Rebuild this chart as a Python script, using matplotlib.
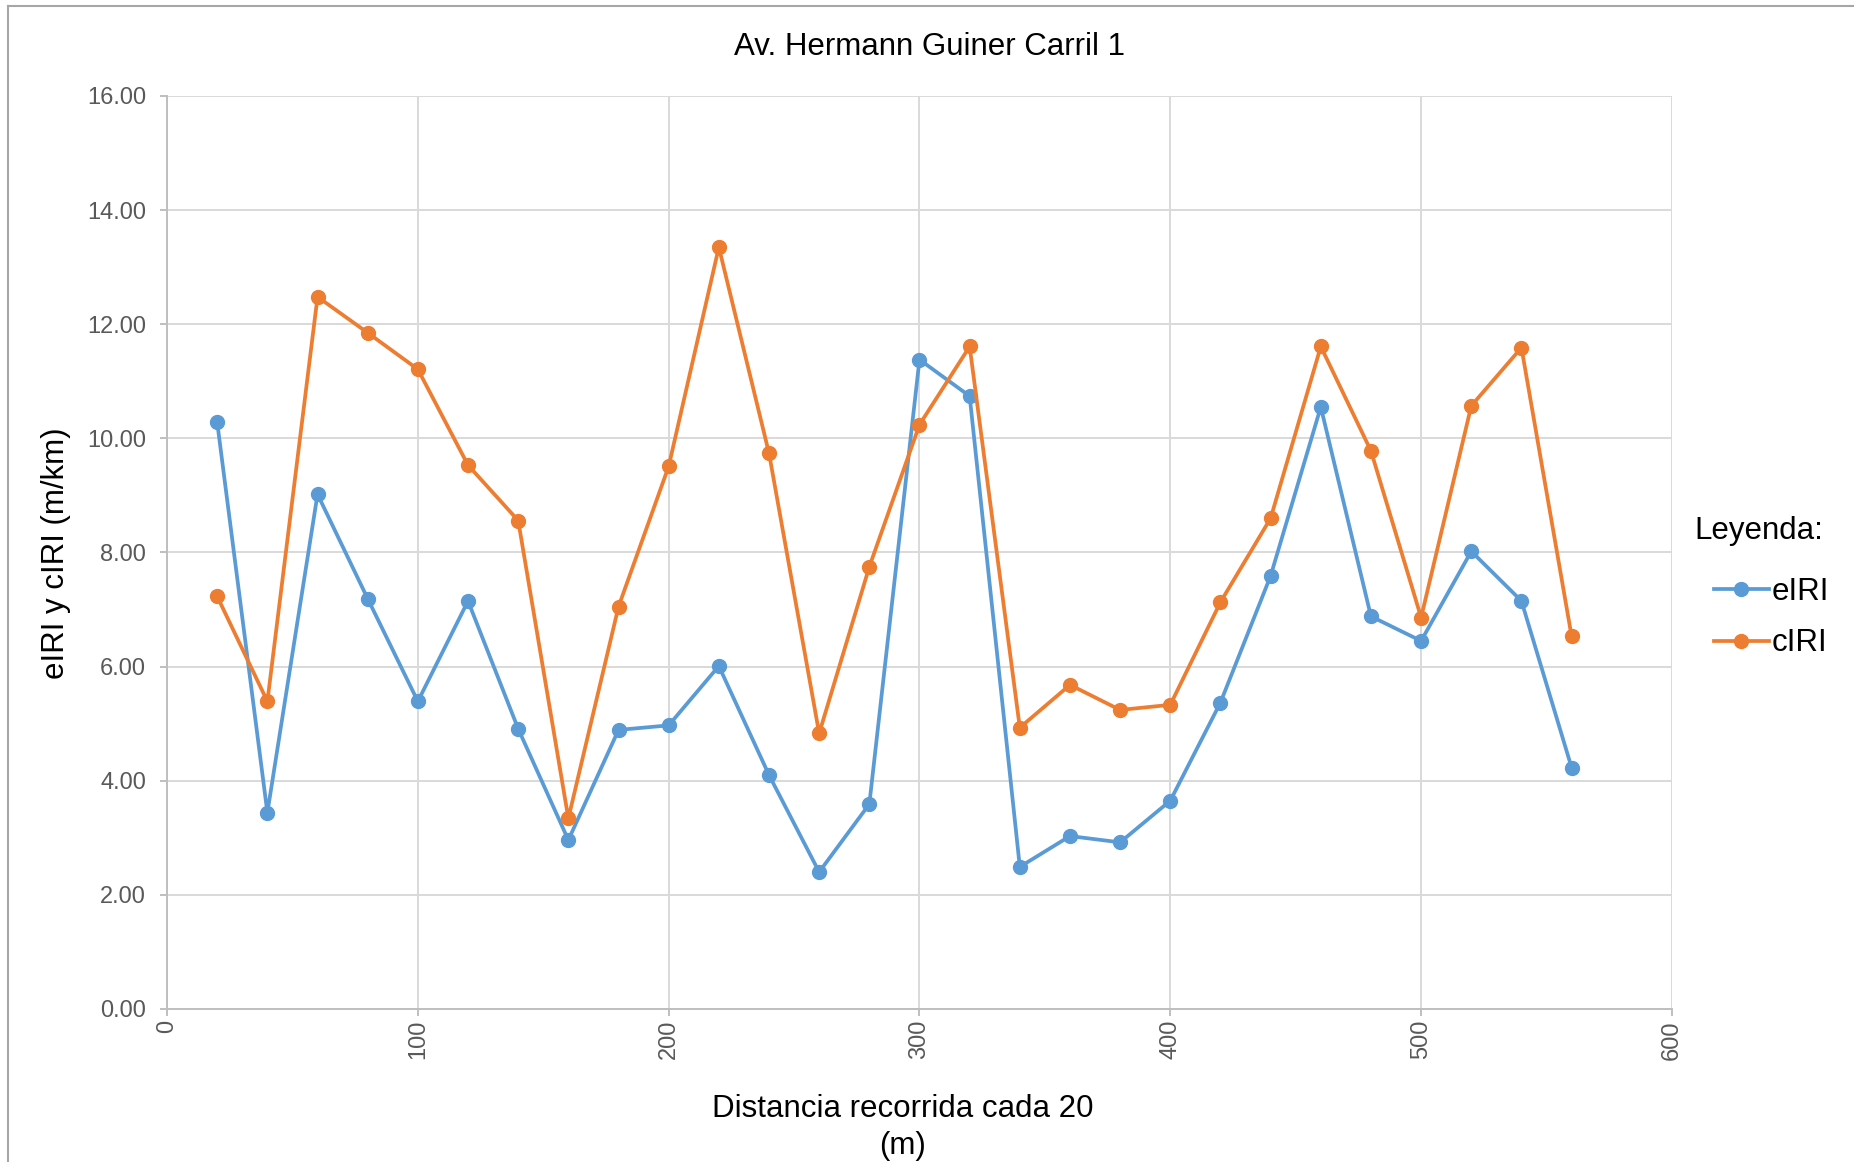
import matplotlib
matplotlib.use('Agg')
import matplotlib.pyplot as plt
from matplotlib.lines import Line2D

plt.rcParams['font.family'] = ['Liberation Sans', 'DejaVu Sans']

# distance every 20 m
distancia = [20, 40, 60, 80, 100, 120, 140, 160, 180, 200, 220, 240, 260, 280,
             300, 320, 340, 360, 380, 400, 420, 440, 460, 480, 500, 520, 540, 560]

eiri = [10.28, 3.44, 9.02, 7.19, 5.39, 7.15, 4.91, 2.96, 4.89, 4.97, 6.01, 4.10, 2.40, 3.59,
        11.38, 10.74, 2.49, 3.03, 2.92, 3.65, 5.37, 7.59, 10.55, 6.88, 6.45, 8.02, 7.15, 4.23]

ciri = [7.23, 5.39, 12.48, 11.85, 11.21, 9.53, 8.56, 3.34, 7.05, 9.51, 13.35, 9.74, 4.83, 7.75,
        10.24, 11.61, 4.93, 5.68, 5.24, 5.33, 7.13, 8.60, 11.61, 9.78, 6.86, 10.57, 11.59, 6.53]

x_ticks = [0, 100, 200, 300, 400, 500, 600]
y_ticks = [0, 2, 4, 6, 8, 10, 12, 14, 16]

fig = plt.figure(figsize=(18.54, 11.62), dpi=100)
ax = fig.add_axes([0.0901, 0.1317, 0.8117, 0.7857])

ax.plot(distancia, eiri, color='#5B9BD5', linewidth=2.7, marker='o', markersize=10, label='eIRI')
ax.plot(distancia, ciri, color='#ED7D31', linewidth=2.7, marker='o', markersize=10, label='cIRI')

ax.set_xlim(0, 600)
ax.set_ylim(0, 16)
ax.set_xticks(x_ticks)
ax.set_yticks(y_ticks)
ax.set_yticklabels([f'{v:.2f}' for v in y_ticks])
ax.set_xticklabels([str(v) for v in x_ticks], rotation=90)

ax.grid(True, color='#D9D9D9', linewidth=1.4)
ax.set_axisbelow(True)
for side in ['top', 'right']:
    ax.spines[side].set_visible(False)
for side in ['left', 'bottom']:
    ax.spines[side].set_color('#BFBFBF')
    ax.spines[side].set_linewidth(1.4)

ax.tick_params(axis='y', length=5, width=1.4, color='#BFBFBF', pad=10, labelsize=17, labelcolor='#595959')
ax.tick_params(axis='x', length=5, width=1.4, color='#BFBFBF', pad=3, labelsize=17, labelcolor='#595959')

ax.set_ylabel('eIRI y cIRI (m/km)', fontsize=22.5, color='black')
ax.yaxis.label.set_va('center')
ax.yaxis.set_label_coords(-0.0738, 0.4995)

ax.set_xlabel('Distancia recorrida cada 20\n(m)', fontsize=22.5, color='black', linespacing=1.3)
ax.xaxis.label.set_va('center')
ax.xaxis.set_label_coords(0.489, -0.1295)

fig.text(0.5016, 0.9592, 'Av. Hermann Guiner Carril 1', fontsize=22.5, ha='center', va='center')

# legend
fig.text(0.9137, 0.5426, 'Leyenda:', fontsize=22.5, ha='left', va='center')
ax.legend(loc='upper left', bbox_to_anchor=(0.9245, 0.5035), bbox_transform=fig.transFigure,
          frameon=False, fontsize=22.5, handlelength=1.75, handletextpad=0.08,
          borderpad=0, borderaxespad=0, labelspacing=0.69, markerscale=1.0)

# outer chart border (cut on the right and bottom)
fig.add_artist(Line2D([0.0043, 1.0], [0.9948, 0.9948], transform=fig.transFigure, color='#A6A6A6', linewidth=1.5))
fig.add_artist(Line2D([0.0043, 0.0043], [0.0, 0.9948], transform=fig.transFigure, color='#A6A6A6', linewidth=1.5))

plt.savefig('out.png', dpi=100)
